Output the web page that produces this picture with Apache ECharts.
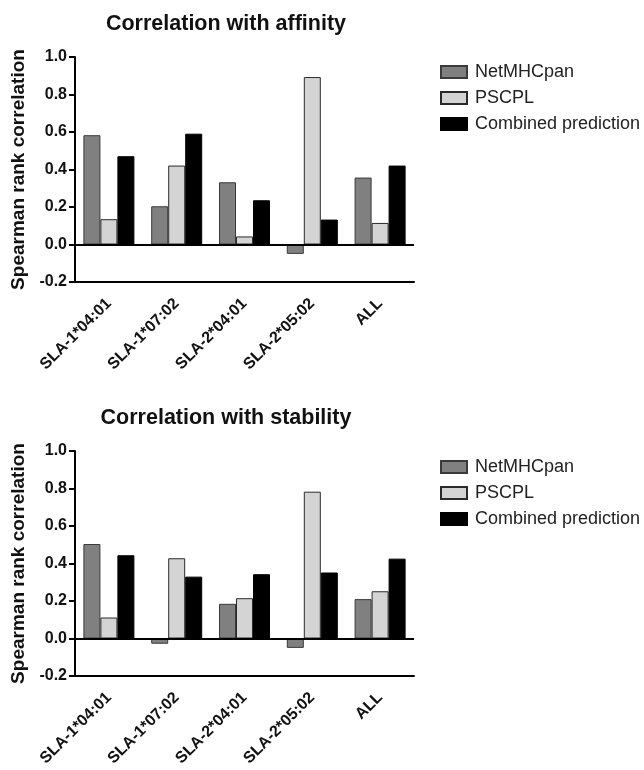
<!DOCTYPE html>
<html>
<head>
<meta charset="utf-8">
<style>
html,body{margin:0;padding:0;background:#fff;}
#chart{width:644px;height:770px;}
</style>
<script src="https://cdn.jsdelivr.net/npm/echarts@6/dist/echarts.min.js"></script>
</head>
<body>
<div id="chart"></div>
<script>
const categories = ['SLA-1*04:01', 'SLA-1*07:02', 'SLA-2*04:01', 'SLA-2*05:02', 'ALL'];
const seriesNames = ['NetMHCpan', 'PSCPL', 'Combined prediction'];
const affinityNetMHCpan = [0.583, 0.204, 0.332, -0.050, 0.357];
const affinityPSCPL = [0.135, 0.421, 0.043, 0.893, 0.115];
const affinityCombined = [0.471, 0.591, 0.236, 0.133, 0.421];
const stabilityNetMHCpan = [0.504, -0.028, 0.185, -0.050, 0.210];
const stabilityPSCPL = [0.112, 0.428, 0.215, 0.783, 0.252];
const stabilityCombined = [0.444, 0.330, 0.343, 0.352, 0.426];
const titles = ['Correlation with affinity', 'Correlation with stability'];
const yAxisName = 'Spearman rank correlation';

const FONT = 'Liberation Sans, Arial, Helvetica, sans-serif';
const styles = [
  {color: '#808080', borderColor: '#3a3a3a', borderWidth: 1},
  {color: '#d4d4d4', borderColor: '#2a2a2a', borderWidth: 1},
  {color: '#000000', borderColor: '#000000', borderWidth: 1}
];
const gridTops = [57, 451];
const legendTops = [58, 453];
const data = [
  [affinityNetMHCpan, affinityPSCPL, affinityCombined],
  [stabilityNetMHCpan, stabilityPSCPL, stabilityCombined]
];

const option = {
  animation: false,
  backgroundColor: '#fff',
  textStyle: {fontFamily: FONT},
  title: titles.map((t, i) => ({
    text: t,
    left: 221,
    textAlign: 'center',
    top: gridTops[i] - 49,
    textStyle: {fontFamily: FONT, fontSize: 21.5, fontWeight: 'bold', color: '#111'}
  })),
  legend: [0, 1].map(i => ({
    data: seriesNames,
    orient: 'vertical',
    left: 435,
    top: legendTops[i],
    itemWidth: 26,
    itemHeight: 12,
    itemGap: 8,
    icon: 'rect',
    textStyle: {fontFamily: FONT, fontSize: 18, color: '#222', padding: [0, 0, 0, 3]}
  })),
  grid: gridTops.map(t => ({left: 75, top: t, width: 339, height: 225})),
  xAxis: [0, 1].map(i => ({
    type: 'category',
    gridIndex: i,
    data: categories,
    axisLine: {onZero: false, lineStyle: {color: '#000', width: 2}},
    axisTick: {alignWithLabel: true, length: 6, lineStyle: {color: '#000', width: 2}},
    axisLabel: {interval: 0, rotate: 45, fontFamily: FONT, fontSize: 16, fontWeight: 'bold', color: '#111', margin: 19}
  })),
  yAxis: [0, 1].map(i => ({
    type: 'value',
    gridIndex: i,
    min: -0.2,
    max: 1.0,
    interval: 0.2,
    name: yAxisName,
    nameLocation: 'middle',
    nameGap: 44,
    nameTextStyle: {fontFamily: FONT, fontSize: 19, fontWeight: 'bold', color: '#111'},
    axisLine: {show: true, lineStyle: {color: '#000', width: 2}},
    axisTick: {show: true, length: 6, lineStyle: {color: '#000', width: 2}},
    splitLine: {show: false},
    axisLabel: {fontFamily: FONT, fontSize: 16, fontWeight: 'bold', color: '#111', margin: 8,
      formatter: v => v.toFixed(1)}
  })),
  series: []
};

[0, 1].forEach(g => {
  seriesNames.forEach((name, s) => {
    const ser = {
      name: name,
      type: 'bar',
      xAxisIndex: g,
      yAxisIndex: g,
      data: data[g][s],
      barWidth: 17,
      barGap: '0%',
      itemStyle: styles[s]
    };
    if (s === 0) {
      ser.markLine = {
        silent: true,
        symbol: 'none',
        label: {show: false},
        lineStyle: {color: '#000', width: 2, type: 'solid'},
        data: [{yAxis: 0}]
      };
    }
    option.series.push(ser);
  });
});

const chart = echarts.init(document.getElementById('chart'), null, {renderer: 'canvas'});
chart.setOption(option);
</script>
</body>
</html>
